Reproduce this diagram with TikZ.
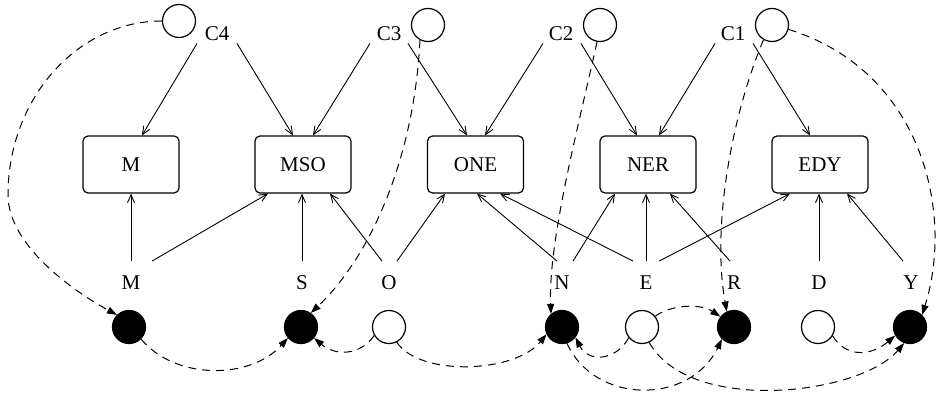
\documentclass[tikz,border=0pt]{standalone}
\usepackage{fontspec}
\setmainfont{Liberation Serif}
\usetikzlibrary{arrows.meta}

\begin{document}
\begin{tikzpicture}[x=0.5pt,y=-0.5pt,
    font=\fontsize{10.5}{12}\selectfont,
    box/.style={draw,line width=0.6pt,rounded corners=2.5pt,minimum width=48pt,minimum height=28.5pt,inner sep=0pt},
    clause/.style={inner sep=1pt},
    letter/.style={minimum height=21.5pt,inner sep=1pt},
    var/.style={draw,line width=0.6pt,circle,minimum size=16.5pt,inner sep=0pt},
    setvar/.style={var,fill=black},
    dep/.style={line width=0.45pt,-{Straight Barb[length=4pt,width=3.5pt]}},
    flow/.style={line width=0.5pt,dash pattern=on 4pt off 3pt,-{Triangle[length=5pt,width=3.5pt]}}]
    \useasboundingbox (0,0) rectangle (940,394);

    % Constraint circles and clause labels
    \node[var] (C4c) at (179,21) {};
    \node[var] (C3c) at (428,25) {};
    \node[var] (C2c) at (600,25) {};
    \node[var] (C1c) at (772,25) {};
    \node[clause] (C4) at (217,34) {C4};
    \node[clause] (C3) at (389,34) {C3};
    \node[clause] (C2) at (561,34) {C2};
    \node[clause] (C1) at (733,34) {C1};

    % Word boxes
    \node[box] (Mb) at (131,164.5) {M};
    \node[box] (MSOb) at (303,164.5) {MSO};
    \node[box] (ONEb) at (475.5,164.5) {ONE};
    \node[box] (NERb) at (648,164.5) {NER};
    \node[box] (EDYb) at (820,164.5) {EDY};

    % Letters
    \node[letter] (M) at (131,283) {M};
    \node[letter] (S) at (302,283) {S};
    \node[letter] (O) at (389,283) {O};
    \node[letter] (N) at (562,283) {N};
    \node[letter] (E) at (646,283) {E};
    \node[letter] (R) at (734,283) {R};
    \node[letter] (D) at (819,283) {D};
    \node[letter] (Y) at (911,283) {Y};

    % Letter variables (filled = fixed)
    \node[setvar] (Mf) at (129,327) {};
    \node[setvar] (Sf) at (301,327) {};
    \node[var] (Oc) at (389,327) {};
    \node[setvar] (Nf) at (562,327) {};
    \node[var] (Ec) at (642,327) {};
    \node[setvar] (Rf) at (734,327) {};
    \node[var] (Dc) at (818,327) {};
    \node[setvar] (Yf) at (910,327) {};

    % Clauses to words
    \draw[dep] ([xshift=-10pt]C4.south) -- ([xshift=5.5pt]Mb.north);
    \draw[dep] ([xshift=10pt]C4.south) -- ([xshift=-5pt]MSOb.north);
    \draw[dep] ([xshift=-9.5pt]C3.south) -- ([xshift=5pt]MSOb.north);
    \draw[dep] ([xshift=9.5pt]C3.south) -- ([xshift=-4.25pt]ONEb.north);
    \draw[dep] ([xshift=-9pt]C2.south) -- ([xshift=4.75pt]ONEb.north);
    \draw[dep] ([xshift=10pt]C2.south) -- ([xshift=-5.5pt]NERb.north);
    \draw[dep] ([xshift=-9pt]C1.south) -- ([xshift=5.5pt]NERb.north);
    \draw[dep] ([xshift=10pt]C1.south) -- ([xshift=-5pt]EDYb.north);

    % Letters to words
    \draw[dep] (M) -- (Mb);
    \draw[dep] ([xshift=10.5pt]M.north) -- ([xshift=-17.5pt]MSOb.south);
    \draw[dep] (S) -- (S |- MSOb.south);
    \draw[dep] ([xshift=-3.5pt]O.north) -- ([xshift=13.5pt]MSOb.south);
    \draw[dep] ([xshift=4pt]O.north) -- ([xshift=-15.25pt]ONEb.south);
    \draw[dep] ([xshift=-2.5pt]N.north) -- ([xshift=0.75pt]ONEb.south);
    \draw[dep] ([xshift=5.5pt]N.north) -- ([xshift=-16.5pt]NERb.south);
    \draw[dep] ([xshift=-6.5pt]E.north) -- ([xshift=12.25pt]ONEb.south);
    \draw[dep] (E) -- (E |- NERb.south);
    \draw[dep] ([xshift=6.5pt]E.north) -- ([xshift=-15pt]EDYb.south);
    \draw[dep] ([xshift=-2pt]R.north) -- ([xshift=11pt]NERb.south);
    \draw[dep] (D) -- (D |- EDYb.south);
    \draw[dep] ([xshift=-4pt]Y.north) -- ([xshift=13.5pt]EDYb.south);

    % Propagation from clauses
    \draw[flow] (C4c.west) .. controls (77,21) and (8,99) .. (8,195)
        .. controls (8,245) and (73,291) .. (Mf.135);
    \draw[flow] (C3c.-118) .. controls (414,161) and (369,258) .. (Sf.55);
    \draw[flow] (C2c.-100) .. controls (580,120) and (548,240) .. (Nf.130);
    \draw[flow] (C1c.-120) .. controls (730,120) and (712,230) .. (Rf.115);
    \draw[flow] (C1c.-15) .. controls (920,70) and (955,210) .. (Yf.45);

    % Propagation between letters
    \draw[flow] (Mf.-45) .. controls (175,380) and (250,380) .. (Sf.220);
    \draw[flow] (Oc.210) .. controls (360,356) and (335,356) .. (Sf.-40);
    \draw[flow] (Oc.-63) .. controls (420,377) and (515,373) .. (Nf.205);
    \draw[flow] (Ec.219) .. controls (615,362) and (588,362) .. (Nf.-38);
    \draw[flow] (Nf.-73) .. controls (595,405) and (690,405) .. (Rf.225);
    \draw[flow] (Ec.39) .. controls (670,305) and (700,303) .. (Rf.143);
    \draw[flow] (Ec.-65) .. controls (690,415) and (860,395) .. (Yf.250);
    \draw[flow] (Dc.-31) .. controls (845,357) and (870,357) .. (Yf.210);
\end{tikzpicture}
\end{document}
